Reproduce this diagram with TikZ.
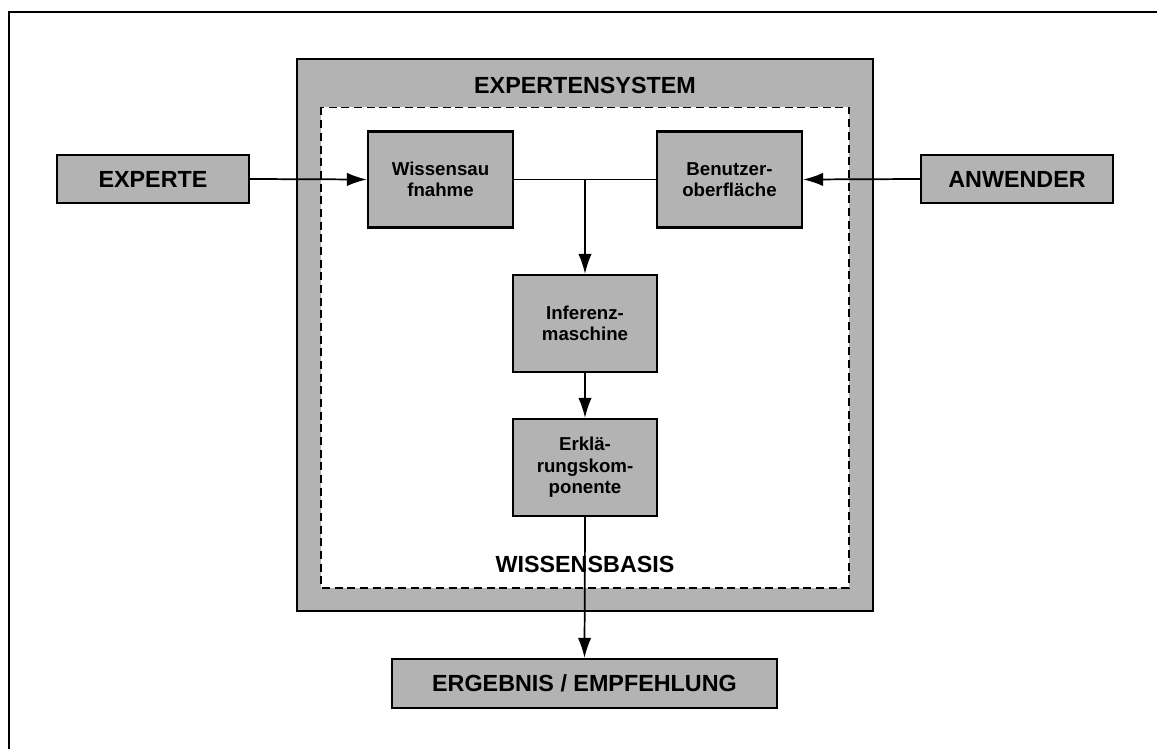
\documentclass[tikz,border=0pt]{standalone}
\usepackage{fontspec}
\setmainfont{Liberation Sans}
\usetikzlibrary{arrows.meta}
\definecolor{boxgray}{RGB}{179,179,179}
\tikzset{
  px/.style={x=0.75pt,y=-0.75pt},
  box/.style={draw=black,fill=boxgray,line width=1.6pt,inner sep=0pt,align=center,font=\fontsize{14}{16}\selectfont\bfseries},
  bigbox/.style={box,font=\fontsize{17.5}{21}\selectfont\bfseries},
  conn/.style={line width=1.3pt,draw=black},
  arr/.style={conn,-{Latex[length=15pt,width=10pt]}},
  title/.style={font=\fontsize{17.5}{21}\selectfont\bfseries,inner sep=0pt}
}
\begin{document}
\begin{tikzpicture}[px]
\useasboundingbox (0,0) rectangle (1157,749);
\begin{scope}
\clip (0,0) rectangle (1157,749);
\draw[line width=1.4pt] (8.7,11.7) rectangle (1180,780);
\end{scope}
% Expertensystem frame
\draw[line width=1.5pt,fill=boxgray] (297,59) rectangle (873,611);
\draw[line width=1.3pt,fill=white,dash pattern=on 6pt off 3.5pt] (321,107.5) rectangle (849,588);
\node[title] (es) at (585,85) {EXPERTENSYSTEM};
\node[title] (wb) at (585,564) {WISSENSBASIS};
% nodes
\node[bigbox,minimum width=144pt,minimum height=36pt] (experte) at (153,179) {EXPERTE};
\node[bigbox,minimum width=144pt,minimum height=36pt] (anwender) at (1017,179) {ANWENDER};
\node[box,minimum width=108.75pt,minimum height=72pt] (wissen) at (440.5,179.5) {Wissensau\\fnahme};
\node[box,minimum width=108.75pt,minimum height=72pt] (benutzer) at (729.5,179.5) {Benutzer-\\oberfläche};
\node[box,minimum width=108pt,minimum height=72.75pt] (inferenz) at (585,323.5) {Inferenz-\\maschine};
\node[box,minimum width=108pt,minimum height=72.75pt] (erkl) at (585,467.5) {Erklä-\\rungskom-\\ponente};
\node[bigbox,minimum width=288.75pt,minimum height=36.75pt] (erg) at (584.5,683.5) {ERGEBNIS / EMPFEHLUNG};
\coordinate (junc) at (585,179.5);
% connectors
\draw[arr] (experte.east) -- (wissen.west);
\draw[arr] (anwender.west) -- (benutzer.east);
\draw[conn] (wissen.east) -- (benutzer.west);
\draw[arr] (junc) -- (inferenz.north);
\draw[arr] (inferenz.south) -- (erkl.north);
\draw[arr] (erkl.south) -- (erg.north);
\end{tikzpicture}
\end{document}
